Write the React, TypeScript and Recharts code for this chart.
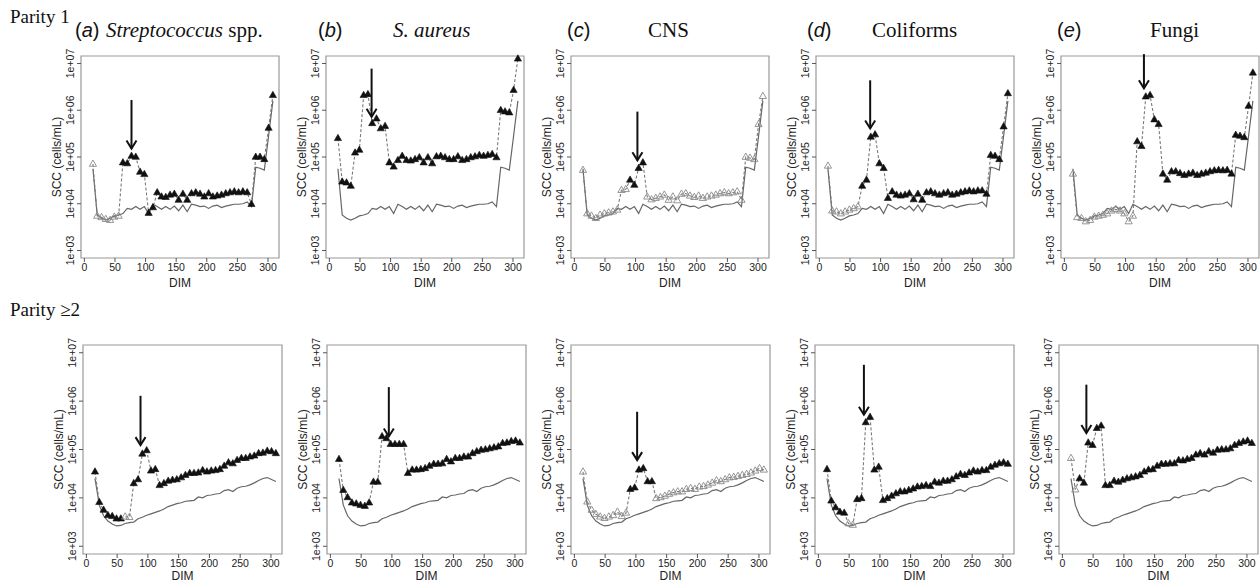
import React from "react";
import { LineChart, Line, XAxis, YAxis, ReferenceLine, ReferenceArea } from "recharts";

// test days (days in milk), shared by every panel
const DIM = [
  14, 21, 28, 35, 42, 49, 56, 63, 70, 77,
  84, 91, 98, 105, 112, 119, 126, 133, 140, 147,
  154, 161, 168, 175, 182, 189, 196, 203, 210, 217,
  224, 231, 238, 245, 252, 259, 266, 273, 280, 287,
  294, 301, 308,
];

// parity 1, healthy cows (solid line)
const BASE_P1 = [
  4.75, 3.76, 3.69, 3.65, 3.69, 3.74, 3.76, 3.79, 3.9, 3.88,
  3.94, 3.88, 3.94, 3.79, 3.99, 3.94, 3.88, 3.94, 3.88, 3.95,
  3.85, 3.97, 3.83, 3.99, 3.97, 3.94, 3.95, 3.9, 3.95, 3.97,
  3.92, 3.95, 3.97, 3.99, 3.99, 4.0, 4.04, 3.94, 4.78, 4.76,
  4.72, 5.45, 6.2,
];

// parity >=2, healthy cows (solid line)
const BASE_P2 = [
  4.4, 3.85, 3.63, 3.52, 3.46, 3.42, 3.43, 3.47, 3.49, 3.5,
  3.57, 3.6, 3.64, 3.67, 3.7, 3.73, 3.77, 3.82, 3.85, 3.88,
  3.9, 3.93, 3.94, 3.95, 4.02, 4.0, 4.05, 4.06, 4.08, 4.09,
  4.15, 4.17, 4.13, 4.2, 4.23, 4.24, 4.27, 4.31, 4.36, 4.4,
  4.42, 4.38, 4.34,
];

const P1_STREP = [
  4.85, 3.74, 3.71, 3.67, 3.65, 3.72, 3.74, 4.88, 4.86, 5.02,
  5.0, 4.68, 4.63, 3.8, 3.92, 4.24, 4.15, 4.14, 4.19, 4.21,
  4.08, 4.21, 4.08, 4.22, 4.24, 4.21, 4.15, 4.22, 4.15, 4.17,
  4.19, 4.22, 4.24, 4.26, 4.24, 4.26, 4.24, 3.99, 5.0, 5.0,
  4.95, 5.62, 6.32,
];
const P1_SAUR = [
  5.4, 4.47, 4.45, 4.38, 5.09, 5.15, 6.32, 6.34, 5.72, 5.82,
  5.61, 5.66, 4.88, 4.79, 4.93, 5.02, 4.93, 4.92, 4.95, 4.99,
  4.88, 4.99, 4.86, 5.01, 5.02, 4.99, 4.95, 4.95, 5.01, 4.93,
  4.95, 4.99, 5.01, 5.04, 5.02, 5.04, 5.06, 4.99, 6.0, 5.97,
  5.95, 6.43, 7.1,
];
const P1_CNS = [
  4.72, 3.79, 3.74, 3.69, 3.76, 3.79, 3.81, 3.83, 3.87, 4.29,
  4.31, 4.51, 4.4, 4.76, 4.88, 4.15, 4.09, 4.12, 4.15, 4.19,
  4.08, 4.15, 4.07, 4.21, 4.22, 4.17, 4.14, 4.17, 4.12, 4.15,
  4.17, 4.19, 4.22, 4.24, 4.22, 4.24, 4.26, 4.08, 5.0, 4.98,
  4.95, 5.7, 6.3,
];
const P1_COLI = [
  4.81, 3.85, 3.83, 3.79, 3.83, 3.87, 3.9, 3.94, 4.38, 4.51,
  5.43, 5.48, 4.86, 4.76, 4.12, 4.26, 4.19, 4.17, 4.19, 4.22,
  4.09, 4.21, 4.08, 4.24, 4.26, 4.22, 4.19, 4.22, 4.24, 4.19,
  4.21, 4.24, 4.26, 4.28, 4.26, 4.28, 4.28, 4.21, 5.04, 5.02,
  4.95, 5.65, 6.36,
];
const P1_FUNGI = [
  4.64, 3.71, 3.69, 3.62, 3.65, 3.72, 3.74, 3.76, 3.79, 3.85,
  3.88, 3.85, 3.79, 3.62, 3.74, 5.33, 5.23, 6.29, 6.32, 5.8,
  5.7, 4.64, 4.51, 4.69, 4.69, 4.65, 4.61, 4.64, 4.66, 4.61,
  4.64, 4.66, 4.69, 4.71, 4.72, 4.71, 4.72, 4.64, 5.47, 5.45,
  5.42, 6.09, 6.8,
];

const P2_STREP = [
  4.54, 3.91, 3.75, 3.64, 3.62, 3.57, 3.57, 3.61, 3.6, 4.3,
  4.38, 4.91, 4.98, 4.56, 4.59, 4.26, 4.3, 4.35, 4.37, 4.38,
  4.42, 4.47, 4.51, 4.51, 4.52, 4.57, 4.54, 4.56, 4.57, 4.59,
  4.66, 4.73, 4.71, 4.78, 4.82, 4.82, 4.85, 4.87, 4.92, 4.93,
  4.97, 4.96, 4.92,
];
const P2_SAUR = [
  4.8, 4.16, 4.01, 3.9, 3.88, 3.85, 3.83, 3.9, 4.33, 4.33,
  5.27, 5.23, 5.11, 5.11, 5.11, 5.11, 4.51, 4.58, 4.58, 4.59,
  4.61, 4.66, 4.7, 4.7, 4.71, 4.8, 4.75, 4.82, 4.82, 4.85,
  4.85, 4.92, 4.96, 4.99, 5.0, 5.02, 5.04, 5.06, 5.13, 5.14,
  5.17, 5.18, 5.14,
];
const P2_CNS = [
  4.54, 3.92, 3.75, 3.66, 3.61, 3.58, 3.61, 3.64, 3.71, 3.62,
  3.69, 4.18, 4.21, 4.58, 4.61, 4.34, 4.34, 3.99, 4.01, 4.04,
  4.08, 4.11, 4.13, 4.13, 4.18, 4.2, 4.18, 4.23, 4.24, 4.27,
  4.31, 4.36, 4.34, 4.38, 4.42, 4.43, 4.45, 4.47, 4.49, 4.52,
  4.56, 4.61, 4.58,
];
const P2_COLI = [
  4.59, 3.94, 3.8, 3.71, 3.69, 3.47, 3.44, 3.97, 3.99, 5.56,
  5.67, 4.58, 4.64, 3.95, 3.99, 4.04, 4.09, 4.13, 4.13, 4.16,
  4.19, 4.23, 4.24, 4.26, 4.24, 4.33, 4.31, 4.35, 4.35, 4.38,
  4.44, 4.49, 4.47, 4.52, 4.56, 4.54, 4.57, 4.57, 4.64, 4.68,
  4.71, 4.73, 4.7,
];
const P2_FUNGI = [
  4.82, 4.17, 4.4, 4.31, 5.14, 5.09, 5.44, 5.49, 4.26, 4.26,
  4.35, 4.33, 4.37, 4.4, 4.42, 4.44, 4.47, 4.54, 4.58, 4.59,
  4.66, 4.7, 4.7, 4.71, 4.71, 4.78, 4.77, 4.8, 4.82, 4.89,
  4.92, 4.89, 4.96, 4.93, 4.99, 5.0, 5.0, 5.02, 5.09, 5.13,
  5.16, 5.18, 5.13,
];

// test days drawn as open (grey) triangles
const P1_STREP_NS = [14, 21, 28, 35, 42, 49, 56];
const P1_SAUR_NS: number[] = [];
const P1_CNS_NS = [
  14, 21, 28, 35, 42, 49, 56, 63, 70, 77, 84,
  119, 126, 133, 140, 147, 154, 161, 168, 175, 182, 189, 196, 203, 210,
  217, 224, 231, 238, 245, 252, 259, 266, 273, 280, 287, 294, 301, 308,
];
const P1_COLI_NS = [14, 21, 28, 35, 42, 49, 56, 63];
const P1_FUNGI_NS = [14, 21, 28, 35, 42, 49, 56, 63, 70, 77, 84, 91, 98, 105, 112];
const P2_STREP_NS = [63, 70];
const P2_SAUR_NS: number[] = [];
const P2_CNS_NS = [
  14, 21, 28, 35, 42, 49, 56, 63, 70, 77, 84,
  133, 140, 147, 154, 161, 168, 175, 182, 189, 196, 203, 210, 217, 224,
  231, 238, 245, 252, 259, 266, 273, 280, 287, 294, 301, 308,
];
const P2_COLI_NS = [49, 56];
const P2_FUNGI_NS = [14, 21];

// arrows: [DIM, tail log10, tip log10]
const P1_ARROWS = [
  [77, 6.22, 5.18],
  [69, 6.89, 5.86],
  [103, 5.97, 4.93],
  [83, 6.64, 5.61],
  [130, 7.2, 6.47],
];
const P2_ARROWS = [
  [88, 6.11, 5.09],
  [95, 6.29, 5.27],
  [102, 5.78, 4.78],
  [74, 6.75, 5.72],
  [39, 6.34, 5.34],
];

const X_TICKS = [0, 50, 100, 150, 200, 250, 300];
const Y_TICKS = [1e3, 1e4, 1e5, 1e6, 1e7];

const SANS = "'Liberation Sans', Arial, Helvetica, sans-serif";
const SERIF = "'Liberation Serif', 'Times New Roman', Times, serif";

const Y_MIN = 10 ** 2.84;
const Y_MAX = 10 ** 7.16;
const X_DOMAIN: [number, number] = [-5.5, 318];

const sci = (v: number) =>
  `1e+${String(Math.round(Math.log10(v))).padStart(2, "0")}`;

const YTick = (p: any) => {
  const { x, y, payload } = p;
  return (
    <text
      x={x}
      y={y}
      transform={`rotate(-90 ${x} ${y})`}
      textAnchor="middle"
      fontSize={10.5}
      fontFamily={SANS}
      fill="#222"
    >
      {sci(payload.value)}
    </text>
  );
};

const YLabel = (p: any) => {
  const vb = p.viewBox;
  if (!vb) return null;
  const x = vb.x + vb.width - 24;
  const y = vb.y + vb.height / 2;
  return (
    <text
      x={x}
      y={y}
      transform={`rotate(-90 ${x} ${y})`}
      textAnchor="middle"
      dominantBaseline="central"
      fontSize={12}
      fontFamily={SANS}
      fill="#222"
    >
      SCC (cells/mL)
    </text>
  );
};

const Triangle = (p: any) => {
  const { cx, cy, payload, index } = p;
  if (cx == null || cy == null) return <g key={`t${index}`} />;
  const pts = `${cx},${cy - 4} ${cx - 3.6},${cy + 2.3} ${cx + 3.6},${cy + 2.3}`;
  return payload.ns ? (
    <polygon key={`t${index}`} points={pts} fill="none" stroke="#8a8a8a" strokeWidth={0.9} />
  ) : (
    <polygon key={`t${index}`} points={pts} fill="#111" stroke="#111" strokeWidth={0.6} />
  );
};

const ArrowShape = (p: any) => {
  const { x1, y1, y2 } = p;
  const tip = Math.max(y1, y2);
  const tail = Math.min(y1, y2);
  return (
    <g>
      <line x1={x1} y1={tail} x2={x1} y2={tip} stroke="#111" strokeWidth={2} />
      <polyline
        points={`${x1 - 5},${tip - 8} ${x1},${tip} ${x1 + 5},${tip - 8}`}
        fill="none"
        stroke="#111"
        strokeWidth={2}
      />
    </g>
  );
};

type PanelProps = {
  left: number;
  top: number;
  plotW: number;
  marginTop: number;
  plotH: number;
  xAxisH: number;
  base: number[];
  vals: number[];
  hollow: number[];
  arrow: number[];
};

function Panel({ left, top, plotW, marginTop, plotH, xAxisH, base, vals, hollow, arrow }: PanelProps) {
  const data = DIM.map((d, i) => ({
    dim: d,
    base: 10 ** base[i],
    scc: 10 ** vals[i],
    ns: hollow.includes(d),
  }));
  const yW = 40;
  return (
    <div style={{ position: "absolute", left: left - yW, top }}>
      <LineChart
        width={yW + plotW + 4}
        height={marginTop + plotH + xAxisH}
        data={data}
        margin={{ top: marginTop, right: 4, bottom: 0, left: 0 }}
      >
        <XAxis
          dataKey="dim"
          type="number"
          domain={X_DOMAIN}
          ticks={X_TICKS}
          interval={0}
          height={xAxisH}
          tickSize={4}
          tickMargin={2}
          axisLine={false}
          tickLine={{ stroke: "#555" }}
          tick={{ fontSize: 10.5, fontFamily: SANS, fill: "#222" }}
          label={{ value: "DIM", position: "insideBottom", offset: 3, fontSize: 12, fontFamily: SANS, fill: "#222" }}
        />
        <YAxis
          type="number"
          scale="log"
          domain={[Y_MIN, Y_MAX]}
          ticks={Y_TICKS}
          interval={0}
          width={yW}
          tickSize={4}
          tickMargin={3}
          axisLine={false}
          tickLine={{ stroke: "#555" }}
          tick={YTick}
          label={YLabel}
        />
        <ReferenceArea
          x1={X_DOMAIN[0]}
          x2={X_DOMAIN[1]}
          y1={Y_MIN}
          y2={Y_MAX}
          fill="none"
          fillOpacity={0}
          stroke="#999"
          strokeWidth={1.2}
          ifOverflow="visible"
        />
        <Line type="linear" dataKey="base" stroke="#666" strokeWidth={1.2} dot={false} activeDot={false} isAnimationActive={false} />
        <Line
          type="linear"
          dataKey="scc"
          stroke="#7a7a7a"
          strokeWidth={1.1}
          strokeDasharray="3 2"
          dot={Triangle}
          activeDot={false}
          isAnimationActive={false}
        />
        <ReferenceLine
          segment={[
            { x: arrow[0], y: 10 ** arrow[1] },
            { x: arrow[0], y: 10 ** arrow[2] },
          ]}
          shape={ArrowShape}
          ifOverflow="visible"
        />
      </LineChart>
    </div>
  );
}

const TOP = [
  { left: 81, vals: P1_STREP, hollow: P1_STREP_NS, arrow: P1_ARROWS[0] },
  { left: 326, vals: P1_SAUR, hollow: P1_SAUR_NS, arrow: P1_ARROWS[1] },
  { left: 571, vals: P1_CNS, hollow: P1_CNS_NS, arrow: P1_ARROWS[2] },
  { left: 816, vals: P1_COLI, hollow: P1_COLI_NS, arrow: P1_ARROWS[3] },
  { left: 1061, vals: P1_FUNGI, hollow: P1_FUNGI_NS, arrow: P1_ARROWS[4] },
];
const BOTTOM = [
  { left: 83, vals: P2_STREP, hollow: P2_STREP_NS, arrow: P2_ARROWS[0] },
  { left: 327, vals: P2_SAUR, hollow: P2_SAUR_NS, arrow: P2_ARROWS[1] },
  { left: 571, vals: P2_CNS, hollow: P2_CNS_NS, arrow: P2_ARROWS[2] },
  { left: 815, vals: P2_COLI, hollow: P2_COLI_NS, arrow: P2_ARROWS[3] },
  { left: 1059, vals: P2_FUNGI, hollow: P2_FUNGI_NS, arrow: P2_ARROWS[4] },
];

const TITLES = [
  { tag: "a", x: 75, nx: 106, name: "Streptococcus", italic: true, rest: " spp." },
  { tag: "b", x: 318, nx: 393, name: "S. aureus", italic: true, rest: "" },
  { tag: "c", x: 567, nx: 648, name: "CNS", italic: false, rest: "" },
  { tag: "d", x: 807, nx: 872, name: "Coliforms", italic: false, rest: "" },
  { tag: "e", x: 1057, nx: 1150, name: "Fungi", italic: false, rest: "" },
];

export default function App() {
  return (
    <div style={{ position: "absolute", left: 0, top: 0, width: 1260, height: 583, background: "#fff", overflow: "hidden" }}>
      <svg width={1260} height={583} style={{ position: "absolute", left: 0, top: 0 }}>
        <text x={10} y={23} fontFamily={SERIF} fontSize={19} fill="#111">Parity 1</text>
        <text x={10} y={316} fontFamily={SERIF} fontSize={19} fill="#111">Parity ≥2</text>
        {TITLES.map((t) => (
          <g key={t.tag}>
            <text x={t.x} y={37} fontFamily={SANS} fontSize={20} fill="#111">
              (<tspan fontStyle="italic">{t.tag}</tspan>)
            </text>
            <text x={t.nx} y={37} fontFamily={SERIF} fontSize={21} fill="#111">
              <tspan fontStyle={t.italic ? "italic" : "normal"}>{t.name}</tspan>
              {t.rest ? <tspan>{t.rest}</tspan> : null}
            </text>
          </g>
        ))}
      </svg>
      {TOP.map((p, i) => (
        <Panel key={`t${i}`} left={p.left} top={0} plotW={198} marginTop={56} plotH={202} xAxisH={32}
          base={BASE_P1} vals={p.vals} hollow={p.hollow} arrow={p.arrow} />
      ))}
      {BOTTOM.map((p, i) => (
        <Panel key={`b${i}`} left={p.left} top={290} plotW={199} marginTop={55} plotH={209} xAxisH={29}
          base={BASE_P2} vals={p.vals} hollow={p.hollow} arrow={p.arrow} />
      ))}
    </div>
  );
}
